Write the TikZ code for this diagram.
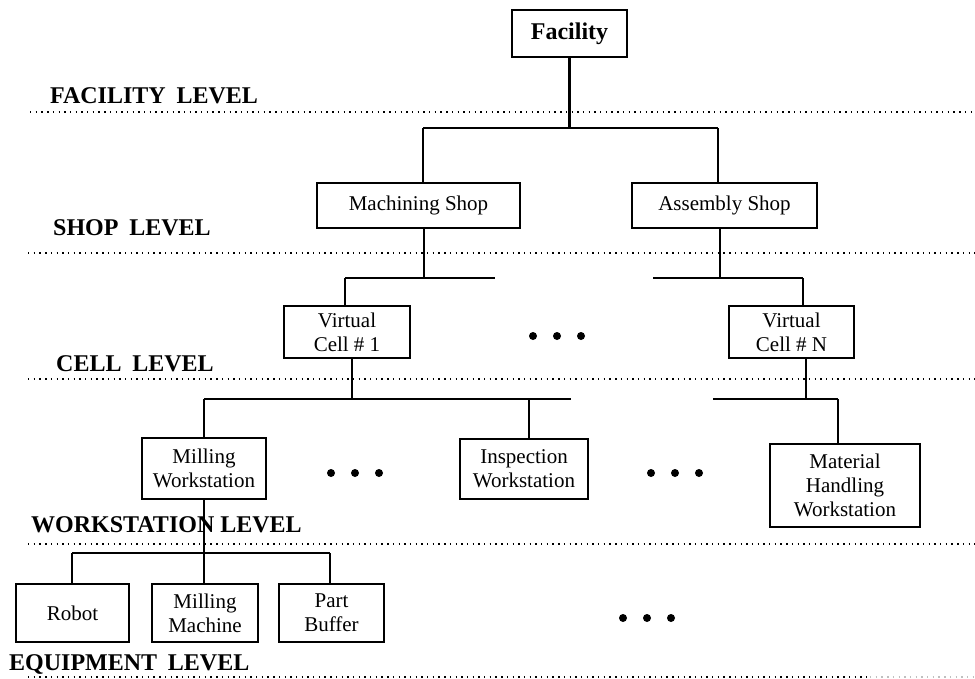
\documentclass[tikz,border=0pt]{standalone}
\usepackage{fontspec}
\setmainfont{Liberation Serif}
\begin{document}
\begin{tikzpicture}[x=1pt,y=-1pt,
  box/.style={draw,line width=2.8pt,inner sep=0pt,align=center,
    font=\fontsize{21}{24}\selectfont},
  lvl/.style={inner sep=0pt,anchor=base west,
    font=\fontsize{24}{28}\selectfont\bfseries},
  link/.style={line width=2.7pt},
  levelline/.style={line width=2.4pt,dash pattern=on 1.4pt off 4.3pt},
  dot/.style={circle,fill,inner sep=0pt,minimum size=8pt}]
\useasboundingbox (0,0) rectangle (975,678);

% boxes of the hierarchy
\node[box,minimum width=115pt,minimum height=47pt,
  font=\fontsize{24}{28}\selectfont\bfseries] (facility) at (569.5,33.5) {Facility};
\node[box,minimum width=203pt,minimum height=45pt] (mshop) at (418.5,205.5) {Machining Shop};
\node[box,minimum width=185pt,minimum height=45pt] (ashop) at (724.5,205.5) {Assembly Shop};
\node[box,minimum width=126pt,minimum height=52pt] (vc1) at (347,332) {Virtual\\Cell \# 1};
\node[box,minimum width=125pt,minimum height=52pt] (vcn) at (791.5,332) {Virtual\\Cell \# N};
\node[box,minimum width=124pt,minimum height=61pt] (mws) at (204,468.5) {Milling\\Workstation};
\node[box,minimum width=128pt,minimum height=60pt] (iws) at (524,469) {Inspection\\Workstation};
\node[box,minimum width=150pt,minimum height=83pt] (mhws) at (845,485.5) {Material\\Handling\\Workstation};
\node[box,minimum width=113pt,minimum height=58pt] (robot) at (72.5,613) {Robot};
\node[box,minimum width=106pt,minimum height=58pt] (mmach) at (205,613) {Milling\\Machine};
\node[box,minimum width=105pt,minimum height=58pt] (pbuf) at (331.5,613) {Part\\Buffer};

% level names
\node[lvl] (lfac) at (50,103) {FACILITY\hspace{0.45em}LEVEL};
\node[lvl] (lshop) at (53,235) {SHOP\hspace{0.45em}LEVEL};
\node[lvl] (lcell) at (56,371) {CELL\hspace{0.45em}LEVEL};
\node[lvl] (lws) at (31,532) {WORKSTATION LEVEL};
\node[lvl] (leq) at (9,670) {EQUIPMENT\hspace{0.45em}LEVEL};

% level separators
\draw[levelline] (30,112) -- (975,112);
\draw[levelline] (28,253) -- (975,253);
\draw[levelline] (28,379) -- (975,379);
\draw[levelline] (28,544) -- (975,544);
\draw[levelline] (28,677) -- (870,677);
\draw[levelline,gray!50] (870,677) -- (975,677);

% facility -> shops
\coordinate (fa) at (423,128);
\coordinate (fb) at (718,128);
\draw[link,line width=3.3pt] (facility.south) -- (facility.south |- fa);
\draw[link] (fa) -- (fb);
\draw[link] (fa) -- (fa |- mshop.north);
\draw[link] (fb) -- (fb |- ashop.north);

% shops -> virtual cells
\coordinate (ma) at (345,278);
\coordinate (mb) at (495,278);
\coordinate (mc) at (424,278);
\draw[link] (mc |- mshop.south) -- (mc);
\draw[link] (ma) -- (mb);
\draw[link] (ma) -- (ma |- vc1.north);
\coordinate (aa) at (653,278);
\coordinate (ab) at (803,278);
\coordinate (ac) at (720,278);
\draw[link] (ac |- ashop.south) -- (ac);
\draw[link] (aa) -- (ab);
\draw[link] (ab) -- (ab |- vcn.north);

% virtual cells -> workstations
\coordinate (ca) at (204,399);
\coordinate (cb) at (571,399);
\coordinate (cc) at (352,399);
\coordinate (cd) at (529,399);
\draw[link] (cc |- vc1.south) -- (cc);
\draw[link] (ca) -- (cb);
\draw[link] (ca) -- (ca |- mws.north);
\draw[link] (cd) -- (cd |- iws.north);
\coordinate (na) at (713,399);
\coordinate (nb) at (838,399);
\coordinate (nc) at (806,399);
\draw[link] (nc |- vcn.south) -- (nc);
\draw[link] (na) -- (nb);
\draw[link] (nb) -- (nb |- mhws.north);

% milling workstation -> equipment
\coordinate (wa) at (72,553);
\coordinate (wb) at (330,553);
\coordinate (wc) at (204,553);
\draw[link] (mws.south) -- (wc);
\draw[link] (wa) -- (wb);
\draw[link] (wa) -- (wa |- robot.north);
\draw[link] (wc) -- (wc |- mmach.north);
\draw[link] (wb) -- (wb |- pbuf.north);

% ellipses
\foreach \n/\x/\y in {c/529/336, w/327/473, v/647/473, e/619/618} {
  \node[dot] (d\n1) at (\x+4,\y) {};
  \node[dot] (d\n2) at (\x+28,\y) {};
  \node[dot] (d\n3) at (\x+52,\y) {};
}
\end{tikzpicture}
\end{document}
